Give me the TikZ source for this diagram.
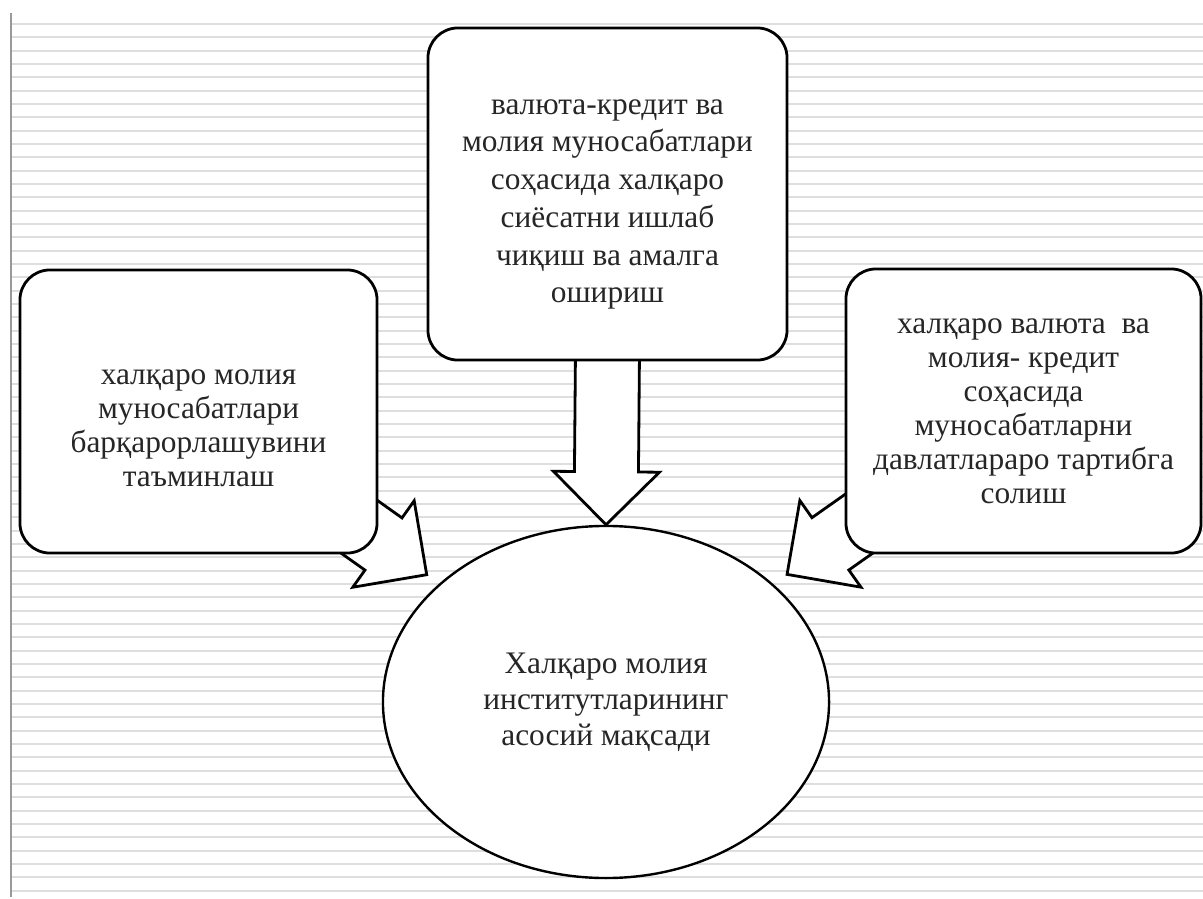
\documentclass[tikz,border=0pt]{standalone}
\usepackage{fontspec}
\setmainfont{Liberation Serif}
\usetikzlibrary{calc}
\usetikzlibrary{shapes.geometric}

% hollow block arrow from #1 to the tip #2
\newcommand{\blockarrow}[2]{%
    \coordinate (ah) at ($(#2)!1.325cm!(#1)$);
    \draw[arrowshape] ($(#1)!0.8cm!90:(#2)$) -- ($(ah)!0.8cm!90:(#2)$) -- ($(ah)!1.325cm!90:(#2)$)
        -- (#2) -- ($(ah)!1.325cm!-90:(#2)$) -- ($(ah)!0.8cm!-90:(#2)$) -- ($(#1)!0.8cm!-90:(#2)$) -- cycle;}

\begin{document}
\begin{tikzpicture}[x=0.025cm, y=-0.025cm,
    aimbox/.style={draw, line width=0.07cm, fill=white, rounded corners=0.75cm, align=center, inner sep=0pt, text=black!85, font=\fontsize{22.3}{24.2}\selectfont},
    goal/.style={draw, ellipse, line width=0.06cm, fill=white, align=center, inner sep=0pt, minimum width=11.15cm, minimum height=8.8cm, text=black!85, font=\fontsize{22.3}{25.6}\selectfont},
    arrowshape/.style={draw, line width=0.07cm, fill=white, line join=miter},
    stripe/.style={black!13, line width=0.05cm}]

    \useasboundingbox (0,0) rectangle (1203,899);
    \fill[white] (0,0) rectangle (1203,899);
    \foreach \i in {0,...,65}
        \draw[stripe] (11,{24+\i*13.333}) -- (1203,{24+\i*13.333});
    \draw[black!40, line width=0.07cm] (11,13) -- (11,897);

    \coordinate (lstart) at (337,511);
    \coordinate (rstart) at (877,511);
    \coordinate (mstart) at (607.5,350);
    \node[goal] (aim) at (606,702) {Халқаро молия\\ институтларининг\\ асосий мақсади};
    \coordinate (ltip) at ($(lstart)!2.75cm!(aim.center)$);
    \coordinate (rtip) at ($(rstart)!2.75cm!(aim.center)$);

    \blockarrow{lstart}{ltip}
    \blockarrow{rstart}{rtip}
    \blockarrow{mstart}{aim.north}

    \node[aimbox, minimum width=8.925cm, minimum height=7.075cm, text height=3.75cm] (left) at (198.5,411.5)
        {халқаро молия\\ муносабатлари\\ барқарорлашувини\\ таъминлаш};
    \node[aimbox, minimum width=8.975cm, minimum height=8.3cm, text height=5.6cm, font=\fontsize{22.3}{26.8}\selectfont] (mid) at (607.5,194)
        {валюта-кредит ва\\ молия муносабатлари\\ соҳасида халқаро\\ сиёсатни ишлаб\\ чиқиш ва амалга\\ ошириш};
    \node[aimbox, minimum width=8.875cm, minimum height=7.1cm] (right) at (1023.5,411)
        {халқаро валюта~ ва\\ молия- кредит\\ соҳасида\\ муносабатларни\\ давлатлараро тартибга\\ солиш};

\end{tikzpicture}
\end{document}
